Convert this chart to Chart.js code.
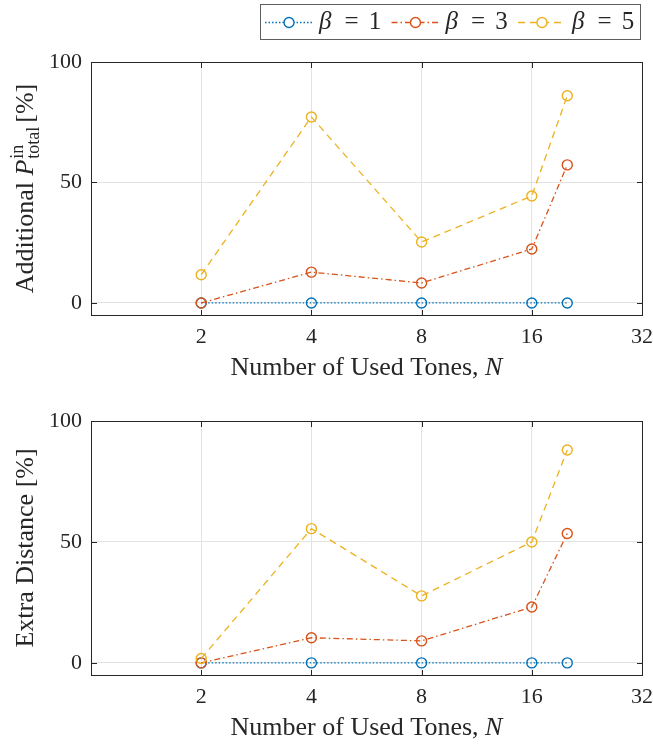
<!DOCTYPE html>
<html>
<head>
<meta charset="utf-8">
<script src="https://cdn.jsdelivr.net/npm/chart.js@4.4.1/dist/chart.umd.min.js"></script>
<style>
  html, body { margin: 0; padding: 0; background: #ffffff; }
  #wrap { position: relative; width: 653px; height: 744px; overflow: hidden; }
  canvas { position: absolute; left: 0; }
</style>
</head>
<body>
<div id="wrap">
  <canvas id="top" width="653" height="385" style="top:0px"></canvas>
  <canvas id="bottom" width="653" height="359" style="top:385px"></canvas>
</div>
<script>
// ---------------- data ----------------
const usedTones = [2, 4, 8, 16, 20];
const powerBeta1 = [0, 0, 0, 0, 0];
const powerBeta3 = [0, 12.8, 8.3, 22.4, 57.3];
const powerBeta5 = [11.7, 77.2, 25.3, 44.4, 86.0];
const distBeta1 = [0, 0, 0, 0, 0];
const distBeta3 = [0, 10.4, 9.1, 23.1, 53.5];
const distBeta5 = [1.8, 55.5, 27.7, 50.0, 88.0];
const xTickValues = [2, 4, 8, 16, 32];
const yTickValues = [0, 50, 100];
const betaLabels = ['1', '3', '5'];

// ---------------- styles ----------------
const SERIF = "'Liberation Serif', 'Times New Roman', serif";
const TEXT = '#262626';
const GRID = '#e3e3e3';
const series = [
  { color: '#0072BD', dash: [1.5, 2] },
  { color: '#D95319', dash: [6, 3, 1.5, 3] },
  { color: '#EDB120', dash: [7, 5] }
];

function makeDatasets(a, b, c) {
  return [a, b, c].map((vals, i) => ({
    label: 'β = ' + betaLabels[i],
    data: usedTones.map((n, k) => ({ x: n, y: vals[k] })),
    borderColor: series[i].color,
    borderWidth: 1.3,
    borderDash: series[i].dash,
    pointStyle: 'circle',
    pointRadius: 5,
    pointHoverRadius: 5,
    pointBorderWidth: 1.4,
    pointBorderColor: series[i].color,
    pointBackgroundColor: 'rgba(255,255,255,0)',
    tension: 0,
    fill: false,
    order: 3 - i
  }));
}

function drawRich(ctx, segs, x, y, rot) {
  ctx.save();
  ctx.translate(x, y);
  ctx.rotate(rot);
  ctx.fillStyle = TEXT;
  ctx.textBaseline = 'alphabetic';
  ctx.textAlign = 'left';
  let total = 0;
  segs.forEach(s => {
    if (s.stack) {
      s.w = 0;
      s.stack.forEach(p => { ctx.font = p.font; s.w = Math.max(s.w, ctx.measureText(p.t).width); });
    } else {
      ctx.font = s.font; s.w = ctx.measureText(s.t).width;
    }
    total += s.w + (s.gap || 0);
  });
  let cx = -total / 2;
  segs.forEach(s => {
    if (s.stack) {
      s.stack.forEach(p => { ctx.font = p.font; ctx.fillText(p.t, cx, p.dy); });
    } else {
      ctx.font = s.font; ctx.fillText(s.t, cx, 0);
    }
    cx += s.w + (s.gap || 0);
  });
  ctx.restore();
}

const up = (sz) => sz + 'px ' + SERIF;
const it = (sz) => 'italic ' + sz + 'px ' + SERIF;

const xTitleSegs = [
  { t: 'Number of Used Tones, ', font: up(26) },
  { t: 'N', font: it(26) }
];

const frameAndTitles = (ySegs) => ({
  id: 'frameAndTitles',
  beforeDatasetsDraw(chart) {
    const { ctx, chartArea: a, scales } = chart;
    ctx.save();
    ctx.strokeStyle = TEXT;
    ctx.lineWidth = 1;
    const L = Math.round(a.left) + 0.5, R = Math.round(a.right) + 0.5;
    const T = Math.round(a.top) + 0.5, B = Math.round(a.bottom) + 0.5;
    ctx.strokeRect(L, T, R - L, B - T);
    const tl = 5.5;
    ctx.beginPath();
    xTickValues.forEach(v => {
      const px = Math.round(scales.x.getPixelForValue(v)) + 0.5;
      ctx.moveTo(px, B); ctx.lineTo(px, B - tl);
      ctx.moveTo(px, T); ctx.lineTo(px, T + tl);
    });
    yTickValues.forEach(v => {
      const py = Math.round(scales.y.getPixelForValue(v)) + 0.5;
      ctx.moveTo(L, py); ctx.lineTo(L + tl, py);
      ctx.moveTo(R, py); ctx.lineTo(R - tl, py);
    });
    ctx.stroke();
    ctx.restore();
  },
  afterDraw(chart) {
    const { ctx, chartArea: a } = chart;
    drawRich(ctx, xTitleSegs, (a.left + a.right) / 2, a.bottom + 60, 0);
    drawRich(ctx, ySegs, 33, (a.top + a.bottom) / 2, -Math.PI / 2);
  }
});

const legendPlugin = {
  id: 'customLegend',
  afterDraw(chart) {
    const ctx = chart.ctx;
    ctx.save();
    ctx.fillStyle = '#ffffff';
    ctx.fillRect(260, 4, 381, 36);
    ctx.strokeStyle = '#5e5e5e';
    ctx.lineWidth = 1;
    ctx.strokeRect(260.5, 4.5, 380, 35);
    const yc = 22.5;
    const starts = [265, 391.5, 518];
    chart.data.datasets.forEach((ds, i) => {
      const x0 = starts[i];
      ctx.strokeStyle = ds.borderColor;
      ctx.lineWidth = ds.borderWidth;
      ctx.setLineDash(ds.borderDash);
      ctx.beginPath();
      ctx.moveTo(x0, yc); ctx.lineTo(x0 + 48, yc);
      ctx.stroke();
      ctx.setLineDash([]);
      ctx.fillStyle = '#ffffff';
      ctx.beginPath();
      ctx.arc(x0 + 24, yc, 5, 0, Math.PI * 2);
      ctx.fill();
      ctx.lineWidth = ds.pointBorderWidth;
      ctx.stroke();
      ctx.fillStyle = TEXT;
      ctx.textBaseline = 'alphabetic';
      ctx.font = it(25);
      ctx.textAlign = 'left';
      ctx.fillText('β', x0 + 54, 28.5);
      ctx.font = up(25);
      ctx.textAlign = 'center';
      ctx.fillText('=', x0 + 86.5, 28.5);
      ctx.fillText(betaLabels[i], x0 + 110, 28.5);
    });
    ctx.restore();
  }
};

function makeChart(id, datasets, ySegs, padTop, xAxisHeight, extraPlugins) {
  return new Chart(document.getElementById(id), {
    type: 'line',
    data: { datasets },
    options: {
      responsive: false,
      animation: false,
      devicePixelRatio: 1,
      layout: { padding: { top: padTop, right: 11, left: 0, bottom: 0 } },
      plugins: { legend: { display: false }, tooltip: { enabled: false } },
      scales: {
        x: {
          type: 'logarithmic',
          min: 1, max: 32,
          afterBuildTicks: s => { s.ticks = xTickValues.map(v => ({ value: v })); },
          afterFit: s => { s.height = xAxisHeight; s.paddingLeft = 0; s.paddingRight = 0; },
          grid: { color: GRID, lineWidth: 1, drawTicks: false },
          border: { display: false },
          ticks: {
            autoSkip: false, maxRotation: 0, padding: 9,
            color: TEXT, font: { family: SERIF, size: 22 },
            callback: v => String(v)
          }
        },
        y: {
          type: 'linear',
          min: -5, max: 100,
          afterBuildTicks: s => { s.ticks = yTickValues.map(v => ({ value: v })); },
          afterFit: s => { s.width = 91; s.paddingTop = 0; s.paddingBottom = 0; },
          grid: { color: GRID, lineWidth: 1, drawTicks: false },
          border: { display: false },
          ticks: {
            padding: 9,
            color: TEXT, font: { family: SERIF, size: 22 },
            callback: v => String(v)
          }
        }
      }
    },
    plugins: [frameAndTitles(ySegs)].concat(extraPlugins)
  });
}

const topYSegs = [
  { t: 'Additional ', font: up(26) },
  { t: 'P', font: it(26), gap: 1 },
  { stack: [ { t: 'in', font: up(18), dy: -10 }, { t: 'total', font: up(18), dy: 6 } ], gap: 4 },
  { t: '[%]', font: up(26) }
];
const bottomYSegs = [
  { t: 'Extra Distance [%]', font: up(26) }
];

makeChart('top', makeDatasets(powerBeta1, powerBeta3, powerBeta5), topYSegs, 62, 70, [legendPlugin]);
makeChart('bottom', makeDatasets(distBeta1, distBeta3, distBeta5), bottomYSegs, 36, 69, []);
</script>
</body>
</html>
